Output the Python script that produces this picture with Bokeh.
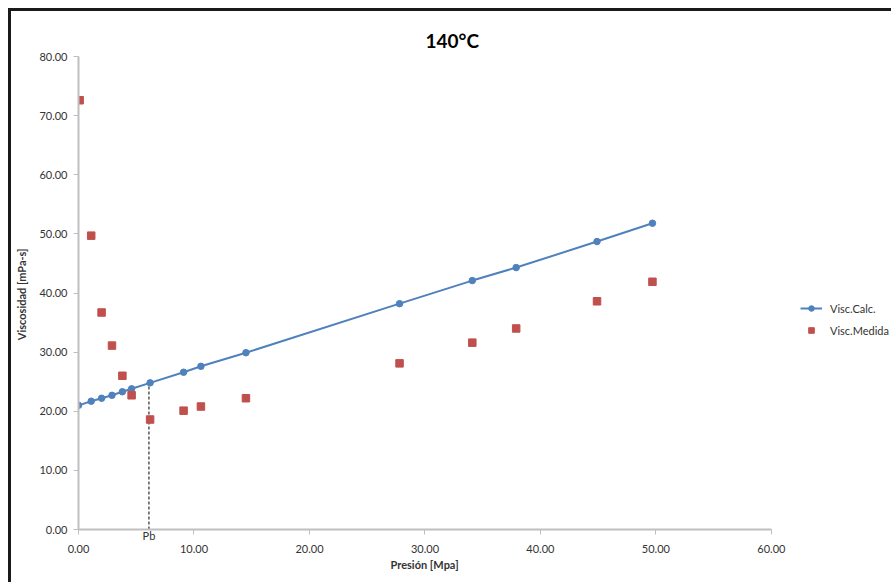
from bokeh.plotting import figure
from bokeh.models import (ColumnDataSource, Legend, LegendItem, Title, LinearAxis,
                          NumeralTickFormatter, FixedTicker, Range1d)
from bokeh.embed import file_html
from bokeh.resources import INLINE

# ---- data ----
presion = [0.0, 1.1, 2.0, 2.9, 3.8, 4.6, 6.2, 9.1, 10.6, 14.5, 27.8, 34.1, 37.9, 44.9, 49.7]
visc_calc = [21.0, 21.7, 22.2, 22.7, 23.3, 23.8, 24.8, 26.6, 27.6, 29.9, 38.2, 42.1, 44.3, 48.7, 51.8]
presion_med = [0.1, 1.1, 2.0, 2.9, 3.8, 4.6, 6.2, 9.1, 10.6, 14.5, 27.8, 34.1, 37.9, 44.9, 49.7]
visc_medida = [72.6, 49.7, 36.7, 31.1, 26.0, 22.7, 18.6, 20.1, 20.8, 22.2, 28.1, 31.6, 34.0, 38.6, 41.9]
pb = [6.1]
pb_visc = [24.8]
pb_label = "Pb"
x_ticks = [0, 10, 20, 30, 40, 50, 60]
y_ticks = [0, 10, 20, 30, 40, 50, 60, 70, 80]

FONT = "Lato"
BLUE = "#4F81BD"
RED = "#C0504D"
AXIS = "#BFBFBF"
TXT = "#333333"

# axis drawn over 0..60; plot area extends to the right edge so legend is not clipped
X_AXIS_END = 60
X_VIEW_END = 70.4

p = figure(width=891, height=582, output_backend="svg", toolbar_location=None,
           x_range=Range1d(0, X_VIEW_END), y_range=Range1d(0, 80),
           min_border_left=78, min_border_right=0, min_border_top=56, min_border_bottom=53)
p.border_fill_alpha = 0
p.styles = {
    "background": ("linear-gradient(#1a1a1a,#1a1a1a) 8px 8px / 2000px 3px no-repeat, "
                   "linear-gradient(#1a1a1a,#1a1a1a) 8px 8px / 3px 2000px no-repeat, #ffffff"),
}

p.title = Title(text="140°C", align="left", text_font=FONT,
                text_font_size="19px", text_font_style="bold", text_color="#000000",
                offset=347)
p.outline_line_color = None
p.xgrid.grid_line_color = None
p.ygrid.grid_line_color = None


def style_axis(ax):
    ax.axis_line_color = AXIS
    ax.axis_line_width = 2
    ax.major_tick_line_color = AXIS
    ax.major_tick_line_width = 1
    ax.major_tick_out = 5
    ax.major_tick_in = 0
    ax.minor_tick_line_color = None
    ax.major_label_text_font = FONT
    ax.major_label_text_font_size = "11px"
    ax.major_label_text_color = TXT
    ax.axis_label_text_font = FONT
    ax.axis_label_text_font_size = "11px"
    ax.axis_label_text_font_style = "bold"
    ax.axis_label_text_color = TXT


# y axis
ya = p.yaxis[0]
style_axis(ya)
ya.ticker = FixedTicker(ticks=y_ticks)
ya.formatter = NumeralTickFormatter(format="0.00")
ya.axis_label = "Viscosidad  [mPa-s]"
ya.major_label_standoff = 6
ya.axis_label_standoff = 8

# x axis nearest the plot: line, tick marks and the "Pb" marker label
xa = p.xaxis[0]
style_axis(xa)
xa.bounds = (0, X_AXIS_END)
xa.ticker = FixedTicker(ticks=pb, minor_ticks=x_ticks)
xa.major_label_overrides = {pb[0]: pb_label}
xa.major_tick_out = 0
xa.minor_tick_line_color = AXIS
xa.minor_tick_out = 5
xa.minor_tick_in = 0
xa.major_label_standoff = -6

# second x axis: numeric tick labels
xb = LinearAxis()
style_axis(xb)
xb.bounds = (0, X_AXIS_END)
xb.ticker = FixedTicker(ticks=x_ticks)
xb.formatter = NumeralTickFormatter(format="0.00")
xb.axis_line_color = None
xb.major_tick_line_color = None
xb.major_tick_out = 0
xb.major_label_standoff = 0
p.add_layout(xb, "below")

# x axis title, centred under the 0..60 axis
p.add_layout(Title(text="Presión [Mpa]", align="left", vertical_align="top", offset=312,
                   text_font=FONT, text_font_size="11px", text_font_style="bold",
                   text_color=TXT, standoff=4), "below")

calc_src = ColumnDataSource(dict(x=presion, y=visc_calc))
med_src = ColumnDataSource(dict(x=presion_med, y=visc_medida))
pb_src = ColumnDataSource(dict(x=pb, y=pb_visc, y0=[0] * len(pb)))

p.segment(x0="x", y0="y0", x1="x", y1="y", source=pb_src, line_color="#000000",
          line_width=1, line_dash="3 2")
l1 = p.line("x", "y", source=calc_src, line_color=BLUE, line_width=2)
c1 = p.scatter("x", "y", source=calc_src, marker="circle", size=6.5, fill_color=BLUE,
               line_color=BLUE)
s1 = p.scatter("x", "y", source=med_src, marker="square", size=7.5, fill_color=RED,
               line_color=RED)

legend = Legend(items=[LegendItem(label="Visc.Calc.", renderers=[l1, c1]),
                       LegendItem(label="Visc.Medida", renderers=[s1])],
                location=(722, 192), orientation="vertical",
                label_text_font=FONT, label_text_font_size="11px", label_text_color=TXT,
                glyph_width=22, glyph_height=14, label_height=14, label_standoff=8,
                spacing=8, padding=0, margin=0, border_line_color=None,
                background_fill_alpha=0)
p.add_layout(legend, "center")

open("out.html", "w").write(file_html(p, INLINE))
